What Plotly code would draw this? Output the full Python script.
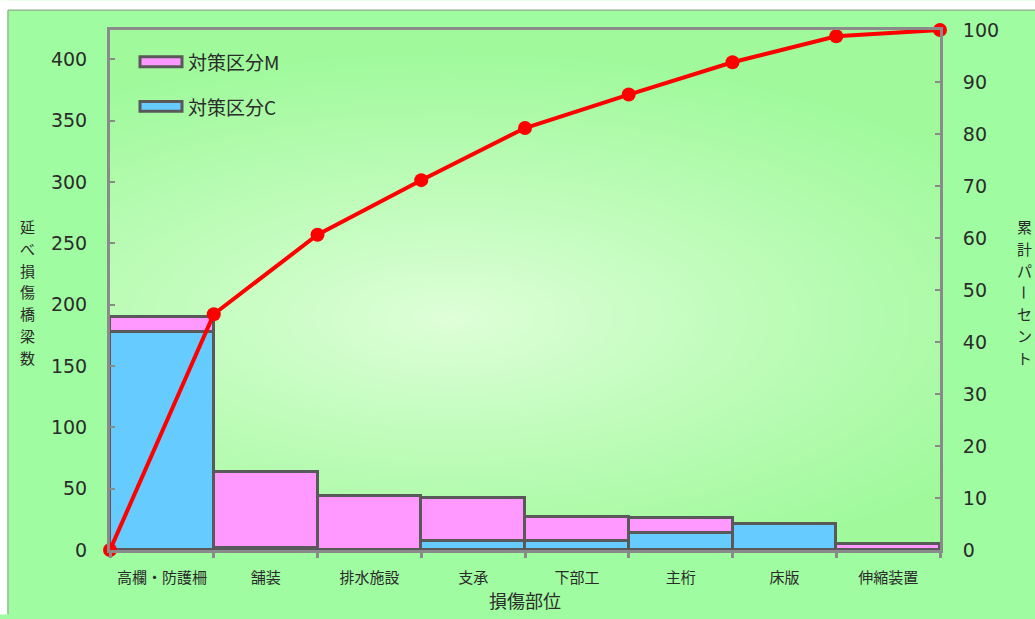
import base64
import struct
import zlib

import numpy as np
import plotly.graph_objects as go

# ---- data -------------------------------------------------------------
categories = ["高欄・防護柵", "舗装", "排水施設", "支承", "下部工", "主桁", "床版", "伸縮装置"]
count_c = [178, 2, 0, 7, 7, 14, 21, 0]      # 対策区分C
count_m = [12, 62, 44, 35, 20, 12, 0, 5]    # 対策区分M
left_ticks = [0, 50, 100, 150, 200, 250, 300, 350, 400]
right_ticks = [0, 10, 20, 30, 40, 50, 60, 70, 80, 90, 100]
left_title = "延べ損傷橋梁数"
right_title = "累計パーセント"

totals = np.array(count_c) + np.array(count_m)
cum_pct = np.concatenate([[0.0], np.cumsum(totals) / totals.sum() * 100.0])
centers = [i + 0.5 for i in range(len(categories))]
edges = list(range(len(categories) + 1))

# ---- geometry ---------------------------------------------------------
W, H = 1035, 619
L, R, T, B = 110, 95, 30, 65
PW, PH = W - L - R, H - T - B


def px(x):
    return (x - L) / PW


def py(y):
    return (H - B - y) / PH


JP = "Noto Sans CJK JP"
NUM = "DejaVu Sans"
TXT = "#2b2b2b"
AXIS = "#8a8a8a"
EDGE = "#595959"
PINK = "#ff99ff"
BLUE = "#66ccff"


# ---- radial gradient for the plotting area ----------------------------
def png_uri(arr):
    h, w, _ = arr.shape
    raw = b"".join(b"\x00" + arr[r].tobytes() for r in range(h))

    def chunk(tag, data):
        body = tag + data
        return struct.pack(">I", len(data)) + body + struct.pack(">I", zlib.crc32(body) & 0xFFFFFFFF)

    png = (b"\x89PNG\r\n\x1a\n"
           + chunk(b"IHDR", struct.pack(">IIBBBBB", w, h, 8, 2, 0, 0, 0))
           + chunk(b"IDAT", zlib.compress(raw, 9))
           + chunk(b"IEND", b""))
    return "data:image/png;base64," + base64.b64encode(png).decode()


gy, gx = np.mgrid[0:PH, 0:PW].astype(float)
cx, cy = 340.0, 290.0
t = np.sqrt(((gx - cx) / 640.0) ** 2 + ((gy - cy) / 270.0) ** 2)
t = np.clip(t, 0, 1) ** 0.9
inner = np.array([224, 255, 218], float)
outer = np.array([160, 250, 156], float)
grad = (inner[None, None, :] * (1 - t[..., None]) + outer[None, None, :] * t[..., None]).astype(np.uint8)
bg_uri = png_uri(grad)

# ---- traces -----------------------------------------------------------
fig = go.Figure()
fig.add_trace(go.Bar(
    x=centers, y=count_c, width=1, name="対策区分C",
    marker=dict(color=BLUE, line=dict(color=EDGE, width=3)),
    showlegend=False, hoverinfo="y",
))
fig.add_trace(go.Bar(
    x=centers, y=count_m, width=1, name="対策区分M",
    marker=dict(color=PINK, line=dict(color=EDGE, width=3)),
    showlegend=False, hoverinfo="y",
))
fig.add_trace(go.Scatter(
    x=edges, y=cum_pct, yaxis="y2", mode="lines+markers",
    line=dict(color="#ff0000", width=4),
    marker=dict(color="#ff0000", size=14),
    cliponaxis=False, showlegend=False, name="累計パーセント",
))

# ---- frame, legend, titles --------------------------------------------
shapes = [
    dict(type="rect", xref="paper", yref="paper", layer="below",
         x0=px(0), x1=px(W), y0=py(9.5), y1=py(0), fillcolor="white", line_width=0),
    dict(type="rect", xref="paper", yref="paper", layer="below",
         x0=px(0), x1=px(7.5), y0=py(H), y1=py(0), fillcolor="white", line_width=0),
    dict(type="line", xref="paper", yref="paper", layer="below",
         x0=px(8), x1=px(W), y0=py(10), y1=py(10), line=dict(color="#94bd94", width=1.5)),
    dict(type="line", xref="paper", yref="paper", layer="below",
         x0=px(8), x1=px(8), y0=py(10), y1=py(H), line=dict(color="#94bd94", width=1.5)),
    # legend swatches
    dict(type="rect", xref="paper", yref="paper", layer="above",
         x0=px(140), x1=px(182), y0=py(67), y1=py(57), fillcolor=PINK, line=dict(color=EDGE, width=3)),
    dict(type="rect", xref="paper", yref="paper", layer="above",
         x0=px(140), x1=px(182), y0=py(112), y1=py(102), fillcolor=BLUE, line=dict(color=EDGE, width=3)),
]

annotations = [
    dict(text="対策区分M", x=px(186), y=py(62), xref="paper", yref="paper",
         xanchor="left", yanchor="middle", showarrow=False, font=dict(family=JP, size=19, color=TXT)),
    dict(text="対策区分C", x=px(186), y=py(107), xref="paper", yref="paper",
         xanchor="left", yanchor="middle", showarrow=False, font=dict(family=JP, size=19, color=TXT)),
]

# vertical (top-to-bottom) axis titles, one glyph per row
STEP = 22
for i, ch in enumerate(left_title):
    annotations.append(dict(
        text=ch, x=px(27), y=py(228 + i * STEP), xref="paper", yref="paper",
        xanchor="center", yanchor="middle", showarrow=False,
        font=dict(family=JP, size=15, color=TXT)))
for i, ch in enumerate(right_title):
    annotations.append(dict(
        text=ch, x=px(1024), y=py(228 + i * STEP), xref="paper", yref="paper",
        xanchor="center", yanchor="middle", showarrow=False,
        textangle=90 if ch == "ー" else 0,
        font=dict(family=JP, size=15, color=TXT)))

axis_common = dict(showline=True, linecolor=AXIS, linewidth=3, showgrid=False, zeroline=False)

fig.update_layout(
    width=W, height=H,
    margin=dict(l=L, r=R, t=T, b=B, pad=0),
    paper_bgcolor="#a0fca0",
    plot_bgcolor="rgba(0,0,0,0)",
    barmode="stack", bargap=0,
    showlegend=False,
    images=[dict(source=bg_uri, xref="paper", yref="paper", x=0, y=1, sizex=1, sizey=1,
                 xanchor="left", yanchor="top", sizing="stretch", layer="below")],
    shapes=shapes,
    annotations=annotations,
    xaxis=dict(
        range=[0, len(categories)], tickmode="array", tickvals=centers, ticktext=categories,
        ticks="", mirror=True, ticklabelstandoff=12,
        minor=dict(tickmode="array", tickvals=edges, ticks="outside", ticklen=5,
                   tickwidth=3, tickcolor=AXIS),
        tickfont=dict(family=JP, size=15, color=TXT),
        title=dict(text="損傷部位", font=dict(family=JP, size=18, color=TXT), standoff=7),
        **axis_common,
    ),
    yaxis=dict(
        range=[0, 424], tickmode="array", tickvals=left_ticks,
        ticks="inside", ticklen=5, tickwidth=2, tickcolor=AXIS, ticklabelstandoff=16,
        tickfont=dict(family=NUM, size=19, color=TXT),
        **axis_common,
    ),
    yaxis2=dict(
        overlaying="y", side="right", range=[0, 100], tickmode="array", tickvals=right_ticks,
        ticks="inside", ticklen=5, tickwidth=2, tickcolor=AXIS, ticklabelstandoff=16,
        tickfont=dict(family=NUM, size=19, color=TXT),
        **axis_common,
    ),
)

fig.write_html("out.html")
